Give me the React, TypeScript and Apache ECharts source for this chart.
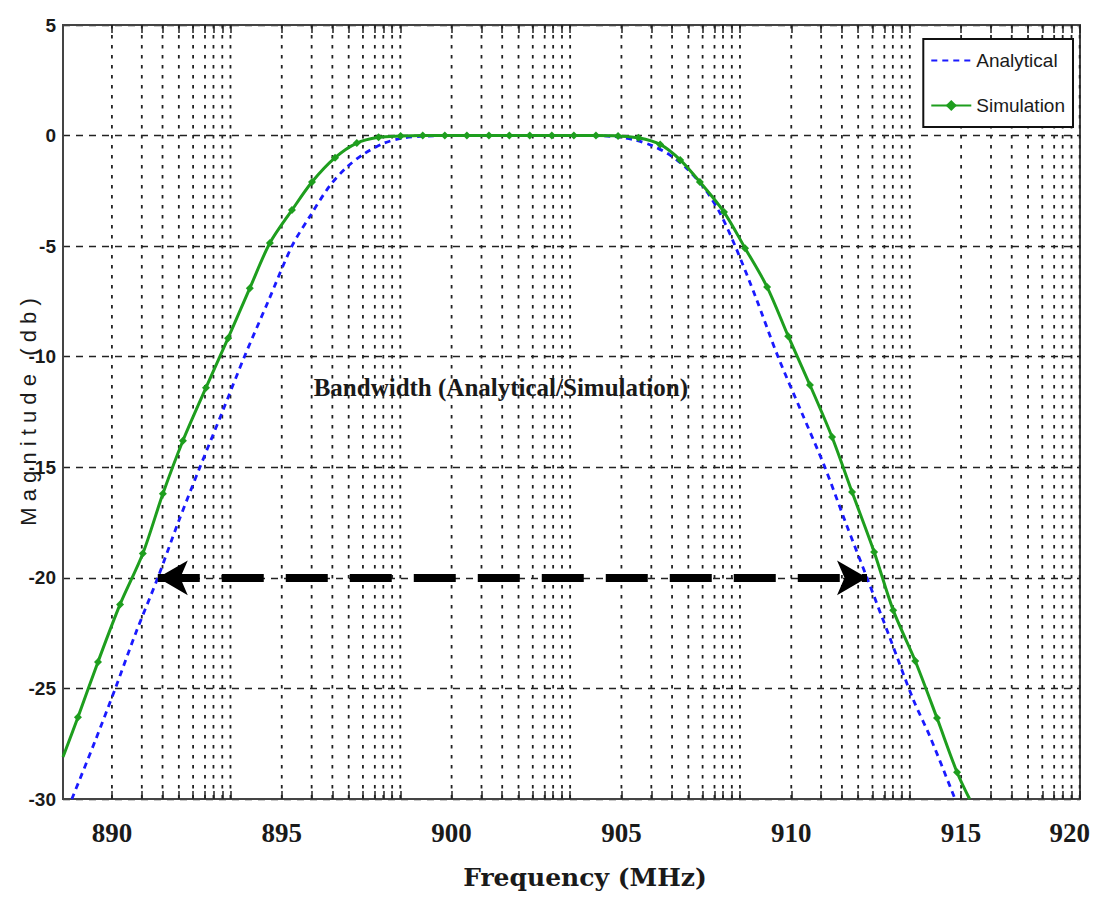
import React, { useEffect, useRef } from 'react';
import * as echarts from 'echarts';

// ---- data ----
const X_MIN = 888.56;
const X_MAX = 918.5;
const Y_MIN = -30;
const Y_MAX = 5;

// axis label positions / texts
const xLabelAt = [890, 895, 900, 905, 910, 915, 918.2];
const xLabelText = ['890', '895', '900', '905', '910', '915', '920'];

// repeating (log-like) vertical grid pattern: period starts and offsets in MHz
const gridPeriodStarts = [890, 895, 900, 905, 910, 915];
const gridOffsets = [0, 0.88, 1.49, 1.97, 2.39, 2.74, 2.99, 3.25, 3.49];

// Simulation (green, solid with diamond markers)
const simX = [888.56, 889.0, 889.59, 890.24, 890.91, 891.5, 892.09, 892.77, 893.42, 894.06, 894.65, 895.3, 895.89, 896.57, 897.21, 897.85, 898.5, 899.15, 899.8, 900.45, 901.1, 901.7, 902.3, 902.95, 903.6, 904.25, 904.9, 905.5, 906.14, 906.73, 907.31, 908.02, 908.64, 909.29, 909.91, 910.55, 911.2, 911.79, 912.44, 913.0, 913.65, 914.29, 914.88, 915.25];
const simY = [-28.1, -26.3, -23.8, -21.2, -18.9, -16.2, -13.8, -11.4, -9.16, -6.9, -4.86, -3.37, -2.1, -1.0, -0.34, -0.08, -0.02, 0, 0, 0, 0, 0, 0, 0, 0, 0, -0.02, -0.1, -0.4, -1.1, -2.1, -3.46, -5.09, -6.85, -9.07, -11.28, -13.63, -16.12, -18.83, -21.46, -23.76, -26.34, -28.79, -30];

// Analytical (blue, dashed)
const anaX = [888.82, 889.5, 890.1, 890.7, 891.35, 891.95, 892.59, 893.25, 893.9, 894.6, 895.3, 895.85, 896.4, 896.9, 897.4, 898.0, 898.6, 899.3, 900, 902, 904, 904.8, 905.4, 905.9, 906.4, 906.9, 907.45, 907.9, 908.35, 908.95, 909.61, 910.3, 910.99, 911.6, 912.23, 912.9, 913.59, 914.09, 914.82];
const anaY = [-30, -27.4, -25, -22.5, -20, -17.5, -15, -12.5, -10, -7.5, -5, -3.6, -2.3, -1.45, -0.85, -0.35, -0.1, -0.02, 0, 0, 0, -0.05, -0.2, -0.45, -0.85, -1.45, -2.4, -3.5, -5, -7.3, -10, -12.5, -15, -17.5, -20, -22.7, -25.5, -27.2, -30];

// bandwidth arrow (at -20 dB) and its label
const bwStart = [891.35, -20];
const bwEnd = [912.23, -20];
const bwLabelPos = [901.45, -11.37];
const bwLabel = 'Bandwidth (Analytical/Simulation)';

const SANS = "'Liberation Sans Narrow','Liberation Sans',Arial,sans-serif";
const SERIF = "'Liberation Serif','Times New Roman',serif";

export default function App() {
  const ref = useRef<HTMLDivElement>(null);

  useEffect(() => {
    if (!ref.current) return;
    const chart = echarts.init(ref.current, undefined, { renderer: 'svg' });

    const gridX: number[] = [];
    gridPeriodStarts.forEach((s) => gridOffsets.forEach((o) => gridX.push(+(s + o).toFixed(3))));

    const simData = simX.map((x, i) => {
      const edge = i === 0 || i === simX.length - 1;
      return edge ? { value: [x, simY[i]], symbol: 'none' } : { value: [x, simY[i]] };
    });
    const anaData = anaX.map((x, i) => [x, anaY[i]]);

    const labelFormatter = (v: number) => {
      const i = xLabelAt.findIndex((a) => Math.abs(a - v) < 1e-6);
      return i >= 0 ? xLabelText[i] : '';
    };

    const option: any = {
      animation: false,
      backgroundColor: '#fff',
      grid: {
        left: 63,
        top: 25,
        right: 14,
        bottom: 98,
        containLabel: false,
        outerBoundsMode: 'none',
        show: true,
        borderColor: '#444',
        borderWidth: 2,
        backgroundColor: '#fff',
      },
      legend: {
        data: [
          { name: 'Analytical', itemStyle: { opacity: 0 } },
          { name: 'Simulation' },
        ],
        orient: 'vertical',
        right: 21,
        top: 39,
        padding: [12, 8, 12, 7],
        itemGap: 26,
        itemWidth: 40,
        itemHeight: 14,
        backgroundColor: '#fff',
        borderColor: '#111',
        borderWidth: 2,
        borderRadius: 0,
        textStyle: { fontFamily: SANS, fontSize: 19, color: '#1a1a1a' },
      },
      xAxis: [
        {
          type: 'value',
          min: X_MIN,
          max: X_MAX,
          position: 'bottom',
          minInterval: 5,
          maxInterval: 5,
          splitLine: { show: false },
          axisLine: { show: true, onZero: false, lineStyle: { color: '#444', width: 2 } },
          axisTick: { show: true, inside: true, length: 8, customValues: gridX, lineStyle: { color: '#222', width: 1.5 } },
          axisLabel: {
            show: true,
            customValues: xLabelAt,
            formatter: labelFormatter,
            margin: 20,
            fontFamily: SERIF,
            fontWeight: 'bold',
            fontSize: 27,
            color: '#1a1a1a',
          },
          name: 'Frequency (MHz)',
          nameLocation: 'middle',
          nameGap: 66,
          nameMoveOverlap: false,
          nameTextStyle: {
            fontFamily: "'DejaVu Serif',serif",
            fontWeight: 'bold',
            fontSize: 25,
            color: '#1a1a1a',
            padding: [0, 0, 0, 27],
          },
        },
        {
          type: 'value',
          min: X_MIN,
          max: X_MAX,
          position: 'top',
          minInterval: 5,
          maxInterval: 5,
          splitLine: { show: false },
          axisLine: { show: true, onZero: false, lineStyle: { color: '#444', width: 2 } },
          axisTick: { show: true, inside: true, length: 8, customValues: gridX, lineStyle: { color: '#222', width: 1.5 } },
          axisLabel: { show: false },
        },
      ],
      yAxis: {
        type: 'value',
        min: Y_MIN,
        max: Y_MAX,
        interval: 5,
        axisLine: { show: true, onZero: false, lineStyle: { color: '#444', width: 2 } },
        axisTick: { show: false },
        splitLine: { show: true, lineStyle: { color: '#222', width: 1.3, type: [7, 6] } },
        axisLabel: {
          fontFamily: SANS,
          fontWeight: 'bold',
          fontSize: 19,
          color: '#1a1a1a',
          margin: 7,
        },
        name: 'M a g n i t u d e   ( d b )',
        nameLocation: 'middle',
        nameRotate: 90,
        nameGap: 24,
        nameMoveOverlap: false,
        nameTextStyle: { fontFamily: SANS, fontSize: 22, color: '#1a1a1a' },
      },
      series: [
        {
          name: 'vgrid',
          type: 'custom',
          silent: true,
          z: 1,
          data: gridX.map((v) => [v, 0]),
          encode: { x: 0, y: 1 },
          renderItem: (params: any, api: any) => {
            const x = api.coord([api.value(0), Y_MIN])[0];
            const yb = api.coord([api.value(0), Y_MIN])[1];
            const yt = api.coord([api.value(0), Y_MAX])[1];
            return {
              type: 'line',
              shape: { x1: x, y1: yt, x2: x, y2: yb },
              style: { stroke: '#222', lineWidth: 1.8, lineDash: [3.5, 6.5] },
            };
          },
        },
        {
          name: 'Analytical',
          type: 'line',
          z: 3,
          data: anaData,
          showSymbol: false,
          symbol: 'none',
          smooth: 0.3,
          lineStyle: { color: '#1a1aff', width: 2.8, type: [6, 5] },
          itemStyle: { color: '#1a1aff' },
          markLine: {
            silent: true,
            symbol: ['arrow', 'arrow'],
            symbolSize: [26, 30],
            label: { show: false },
            lineStyle: { color: '#000', width: 8, type: [42, 22] },
            itemStyle: { color: '#000' },
            data: [[{ coord: bwStart }, { coord: bwEnd }]],
          },
          markPoint: {
            silent: true,
            symbol: 'rect',
            symbolSize: 1,
            itemStyle: { color: 'rgba(0,0,0,0)' },
            label: {
              show: true,
              position: 'inside',
              formatter: bwLabel,
              fontFamily: SERIF,
              fontWeight: 'bold',
              fontSize: 25,
              color: '#1a1a1a',
            },
            data: [{ coord: bwLabelPos }],
          },
        },
        {
          name: 'Simulation',
          type: 'line',
          z: 4,
          data: simData,
          symbol: 'diamond',
          symbolSize: 8,
          showSymbol: true,
          smooth: 0.3,
          lineStyle: { color: '#1e9e1e', width: 3 },
          itemStyle: { color: '#1e9e1e' },
        },
      ],
    };

    chart.setOption(option);
    return () => chart.dispose();
  }, []);

  return (
    <div
      ref={ref}
      style={{ position: 'fixed', left: 0, top: 0, width: 1094, height: 897, background: '#fff' }}
    />
  );
}
